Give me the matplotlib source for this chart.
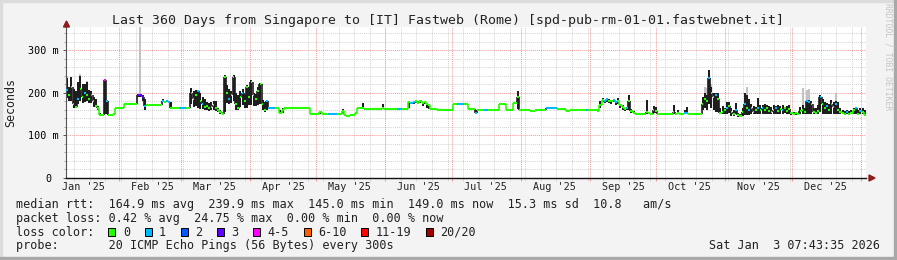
import datetime as dt
import matplotlib
matplotlib.use("Agg")
import matplotlib.pyplot as plt
import matplotlib.dates as mdates
import numpy as np
from matplotlib.patches import Rectangle, Polygon

# time range of the graph
start = dt.datetime(2025, 1, 8, 7, 43, 35)
end = dt.datetime(2026, 1, 3, 7, 43, 35)
n_days = 360

# daily median rtt (ms)
median_ms = [
    207, 195, 215, 175, 168, 185, 210, 190, 200, 195, 185, 195, 180, 170, 165, 149, 149, 230, 180, 149,
    149, 150, 165, 165, 165, 165, 174, 174, 174, 174, 174, 174, 195, 195, 190, 170, 172, 172, 172, 172,
    172, 172, 172, 181, 178, 181, 178, 165, 164, 164, 164, 164, 164, 164, 164, 164, 200, 185, 195, 205,
    180, 175, 168, 170, 165, 168, 172, 165, 160, 155, 150, 238, 200, 185, 195, 237, 175, 165, 190, 200,
    180, 215, 190, 225, 195, 185, 205, 220, 175, 160, 180, 165, 165, 165, 165, 165, 152, 160, 164, 164,
    164, 164, 164, 164, 164, 164, 164, 164, 164, 164, 151, 151, 151, 151, 156, 151, 151, 151, 151, 151,
    151, 151, 151, 151, 158, 147, 146, 145, 147, 149, 152, 164, 164, 165, 163, 163, 163, 163, 163, 163,
    163, 163, 164, 162, 162, 162, 162, 162, 162, 162, 162, 162, 162, 162, 178, 176, 178, 181, 177, 180,
    176, 179, 175, 172, 162, 162, 162, 160, 160, 160, 160, 160, 160, 160, 174, 174, 174, 174, 174, 174,
    174, 162, 162, 162, 153, 160, 160, 160, 160, 160, 160, 160, 160, 160, 160, 174, 174, 174, 160, 160,
    160, 176, 176, 190, 161, 161, 161, 161, 161, 157, 157, 160, 160, 160, 160, 160, 164, 164, 164, 164,
    164, 162, 162, 162, 162, 158, 158, 161, 161, 161, 161, 161, 161, 161, 161, 161, 161, 161, 161, 157,
    172, 183, 180, 186, 182, 180, 183, 179, 181, 172, 168, 163, 165, 180, 158, 153, 150, 150, 150, 150,
    150, 155, 152, 150, 160, 158, 150, 150, 150, 150, 150, 150, 150, 155, 150, 152, 150, 150, 152, 152,
    150, 150, 150, 150, 150, 150, 175, 185, 180, 235, 200, 190, 195, 185, 153, 155, 160, 165, 170, 155,
    150, 160, 148, 146, 155, 175, 165, 160, 165, 155, 160, 165, 160, 165, 160, 165, 158, 155, 160, 165,
    158, 162, 160, 165, 158, 162, 152, 150, 152, 150, 158, 160, 155, 180, 178, 175, 155, 152, 158, 190,
    175, 165, 170, 160, 175, 168, 175, 160, 155, 152, 150, 155, 150, 152, 160, 165, 150, 158, 155, 149,
]

# daily smoke range (ms)
smoke_lo_ms = [
    188, 180, 182, 165, 165, 175, 180, 176, 178, 180, 176, 176, 168, 167, 160, 148, 149, 150, 150, 149,
    149, 150, 165, 165, 165, 165, 174, 174, 174, 174, 174, 174, 190, 190, 180, 160, 172, 172, 172, 172,
    172, 172, 172, 178, 178, 178, 178, 163, 164, 164, 164, 164, 164, 164, 164, 164, 175, 168, 170, 165,
    163, 162, 160, 160, 158, 160, 160, 158, 155, 150, 148, 155, 176, 175, 176, 180, 160, 160, 168, 172,
    165, 165, 172, 172, 170, 170, 172, 175, 160, 155, 160, 165, 165, 165, 165, 165, 150, 152, 164, 164,
    164, 164, 164, 164, 164, 164, 164, 164, 164, 164, 151, 151, 151, 151, 151, 151, 151, 151, 151, 151,
    151, 151, 151, 151, 150, 146, 146, 145, 147, 149, 152, 164, 164, 163, 163, 163, 163, 163, 163, 163,
    163, 163, 162, 162, 162, 162, 162, 162, 162, 162, 162, 162, 162, 162, 165, 174, 175, 176, 175, 176,
    170, 175, 165, 162, 162, 162, 162, 160, 160, 160, 160, 160, 160, 160, 174, 174, 174, 174, 174, 174,
    174, 162, 162, 162, 152, 160, 160, 160, 160, 160, 160, 160, 160, 160, 160, 174, 174, 174, 160, 160,
    160, 176, 176, 162, 161, 161, 161, 161, 161, 157, 157, 160, 160, 160, 160, 160, 164, 164, 164, 164,
    164, 162, 162, 162, 162, 158, 158, 161, 161, 161, 161, 161, 161, 161, 161, 161, 161, 161, 161, 157,
    165, 178, 176, 178, 176, 175, 178, 172, 175, 165, 160, 158, 160, 160, 153, 150, 150, 150, 150, 150,
    150, 150, 150, 150, 153, 152, 150, 150, 150, 150, 150, 150, 150, 150, 150, 150, 150, 150, 150, 150,
    150, 150, 150, 150, 150, 150, 160, 165, 160, 175, 165, 160, 155, 155, 150, 150, 150, 150, 152, 145,
    145, 150, 143, 143, 145, 148, 148, 148, 150, 150, 150, 150, 150, 150, 150, 150, 150, 150, 150, 150,
    150, 150, 150, 152, 150, 150, 148, 148, 148, 148, 150, 150, 150, 150, 150, 150, 150, 150, 150, 155,
    150, 150, 150, 150, 150, 150, 150, 150, 150, 150, 148, 150, 148, 150, 150, 150, 148, 150, 150, 148,
]
smoke_hi_ms = [
    235, 215, 237, 210, 205, 225, 240, 222, 220, 225, 207, 205, 190, 185, 170, 152, 150, 233, 183, 149,
    149, 150, 165, 165, 165, 165, 174, 174, 174, 174, 174, 174, 197, 197, 195, 185, 172, 172, 172, 172,
    172, 172, 172, 186, 178, 184, 178, 178, 164, 164, 164, 164, 164, 164, 164, 164, 212, 205, 207, 208,
    200, 190, 185, 178, 176, 178, 180, 182, 165, 160, 155, 242, 219, 210, 205, 242, 200, 195, 205, 210,
    198, 219, 215, 230, 200, 198, 215, 223, 183, 178, 183, 165, 165, 165, 165, 165, 160, 164, 164, 164,
    164, 164, 164, 164, 164, 164, 164, 164, 164, 164, 151, 151, 151, 151, 158, 151, 151, 151, 151, 151,
    151, 151, 151, 151, 162, 149, 146, 145, 147, 149, 152, 164, 164, 176, 163, 163, 163, 163, 163, 163,
    163, 163, 174, 162, 162, 162, 162, 162, 162, 162, 162, 162, 162, 162, 180, 178, 180, 182, 180, 181,
    178, 180, 177, 175, 162, 162, 162, 160, 160, 160, 160, 160, 160, 160, 174, 174, 174, 174, 174, 174,
    174, 162, 162, 162, 160, 160, 160, 160, 160, 160, 160, 160, 160, 160, 160, 174, 174, 174, 160, 160,
    160, 176, 176, 205, 161, 161, 161, 161, 161, 157, 157, 160, 160, 160, 160, 160, 164, 164, 164, 164,
    164, 162, 162, 162, 162, 158, 158, 161, 161, 161, 161, 161, 161, 161, 161, 161, 161, 161, 161, 157,
    180, 187, 184, 188, 185, 183, 185, 182, 188, 175, 172, 165, 168, 195, 162, 158, 150, 150, 150, 150,
    150, 183, 155, 150, 169, 168, 150, 150, 150, 150, 150, 150, 150, 172, 150, 160, 150, 150, 160, 167,
    150, 150, 150, 150, 150, 150, 190, 200, 195, 254, 215, 200, 200, 200, 165, 170, 165, 179, 179, 165,
    160, 176, 152, 150, 165, 200, 195, 185, 175, 170, 168, 187, 172, 172, 175, 172, 170, 168, 172, 170,
    172, 170, 172, 168, 170, 172, 155, 155, 155, 153, 168, 172, 165, 183, 183, 180, 165, 165, 172, 195,
    185, 178, 176, 175, 183, 178, 180, 178, 165, 160, 158, 160, 158, 160, 165, 168, 160, 165, 165, 160,
]
# light grey outer smoke (day -> ms)
peak_ms = {0: 240, 6: 245, 9: 228, 33: 355, 287: 215, 288: 212, 290: 222,
           306: 215, 331: 212, 333: 207, 334: 210, 346: 200}

# loss per day, index into loss_labels
loss_rows = [
    "100001001001000004100000000000",
    "003331000000010110000111001001",
    "010000000000010000010000100000",
    "111100000000000000000000000011",
    "110000000000000000000000000001",
    "100001100000000000000000001110",
    "000010001100000000000000000000",
    "000000111110000000000000100000",
    "001100110000100000000000000000",
    "000000001100000000010010000100",
    "010001010001010000010010000000",
    "000110000100101010000100010100",
]
loss = "".join(loss_rows)

loss_labels = ["0", "1", "2", "3", "4-5", "6-10", "11-19", "20/20"]
loss_colors = ["#26ff00", "#00b8ff", "#0059ff", "#5e00ff", "#ff00ff", "#ff5e00", "#ff0000", "#a10000"]

y_ticks = [0, 100, 200, 300]
y_tick_labels = ["0 ", "100 m", "200 m", "300 m"]

title = "Last 360 Days from Singapore to [IT] Fastweb (Rome) [spd-pub-rm-01-01.fastwebnet.it]"
legend_lines = [
    "median rtt:  164.9 ms avg  239.9 ms max  145.0 ms min  149.0 ms now  15.3 ms sd  10.8   am/s",
    "packet loss: 0.42 % avg  24.75 % max  0.00 % min  0.00 % now",
    "loss color:",
    "probe:       20 ICMP Echo Pings (56 Bytes) every 300s",
]
stamp = "Sat Jan  3 07:43:35 2026"

W, H = 897, 260
MONO = "DejaVu Sans Mono"
BG = "#f3f3f3"
SMOKE = "#1e1e1e"


def fx(px):
    return px / W


def fy(py):
    return 1 - py / H


fig = plt.figure(figsize=(W / 100, H / 100), dpi=100, facecolor=BG)
ax = fig.add_axes([fx(66), fy(178), 800 / W, 151 / H])
ax.set_facecolor("white")

x0 = mdates.date2num(start)
x1 = mdates.date2num(end)
xs = x0 + np.arange(n_days)
ax.set_xlim(x0, x1)
ax.set_ylim(0, 355)

# grid
dot = (0, (1, 1))
for v in range(0, 356, 20):
    if v % 100:
        ax.axhline(v, color="#d2d2d2", lw=0.7, ls=dot, zorder=0)
for v in y_ticks[1:]:
    ax.axhline(v, color="#f29a9a", lw=0.7, ls=dot, zorder=0.5)
weeks = [v for v in mdates.WeekdayLocator(byweekday=mdates.SU).tick_values(start, end)
         if x0 < v < x1]
month_starts = [v for v in mdates.MonthLocator().tick_values(start, end) if x0 < v < x1]
for v in weeks:
    ax.axvline(v, color="#d2d2d2", lw=0.7, ls=dot, zorder=0)
for v in month_starts:
    ax.axvline(v, color="#f29a9a", lw=0.7, ls=dot, zorder=0.5)

med = np.array(median_ms, float)
lo = np.array(smoke_lo_ms, float)
hi = np.array(smoke_hi_ms, float)
calm = (hi - lo) <= 15

# outer smoke
pk_days = sorted(peak_ms)
ax.vlines(xs[pk_days] + 0.45, lo[pk_days], [peak_ms[d] for d in pk_days],
          color="#c2c2c2", lw=1.5, zorder=1)
# dark smoke
ax.bar(xs, hi - lo, bottom=lo, width=0.9, align="edge", color=SMOKE, lw=0, zorder=2)

# median line coloured by loss: full steps where calm, short dots inside heavy smoke
cols = [loss_colors[int(c)] for c in loss]
ax.hlines(med, np.where(calm, xs, xs + 0.1), np.where(calm, xs + 1, xs + 0.8),
          colors=cols, lw=1.5, zorder=3)
for i in range(n_days - 1):
    if med[i] != med[i + 1]:
        c = cols[i + 1] if (calm[i] and calm[i + 1] and loss[i] == loss[i + 1]) else SMOKE
        ax.vlines(xs[i + 1], med[i], med[i + 1], colors=c, lw=1.2, zorder=2.5)

# axes
for s in ["top", "right"]:
    ax.spines[s].set_visible(False)
ax.spines["left"].set_color("#555555")
ax.spines["left"].set_linewidth(0.8)
ax.spines["bottom"].set_color("#111111")
ax.spines["bottom"].set_linewidth(1.0)
ax.set_yticks(y_ticks)
ax.set_yticklabels(y_tick_labels, family=MONO, fontsize=7.3)
ax.set_yticks(range(20, 356, 20), minor=True)
ax.tick_params(axis="y", which="major", length=2.5, width=0.7, pad=3, color="#555555")
ax.tick_params(axis="y", which="minor", length=1.5, width=0.6, color="#999999")
ax.set_xticks(month_starts)
ax.set_xticklabels([])
ax.set_xticks(weeks, minor=True)
ax.tick_params(axis="x", which="major", length=2.5, width=0.7, color="#f29a9a")
ax.tick_params(axis="x", which="minor", length=2.0, width=0.6, color="#d2d2d2")

# month labels centred on the 16th
xtrans = ax.get_xaxis_transform()
label_y = (178 - 190.5) / 151
for v in mdates.DayLocator(bymonthday=16).tick_values(start, end):
    if x0 < v < x1:
        ax.text(v, label_y, mdates.num2date(v).strftime("%b '%y"), transform=xtrans,
                ha="center", va="baseline", family=MONO, fontsize=7.3, color="#222222")

# arrows
arrow_col = "#8e1b1b"
fig.patches.append(Polygon([(fx(66.5), fy(21)), (fx(63.5), fy(27)), (fx(69.5), fy(27))],
                           closed=True, transform=fig.transFigure, color=arrow_col))
fig.patches.append(Polygon([(fx(875), fy(178)), (fx(869), fy(175)), (fx(869), fy(181))],
                           closed=True, transform=fig.transFigure, color=arrow_col))

# texts
fig.text(fx(447.5), fy(24), title, ha="center", va="baseline", family=MONO, fontsize=9.5,
         color="#222222")
fig.text(fx(11), fy(102.5), "Seconds", rotation=90, ha="center", va="center", family=MONO,
         fontsize=8.4, color="#222222")
fig.text(fx(888), fy(3), "RRDTOOL / TOBI OETIKER", rotation=-90, ha="center", va="top",
         family=MONO, fontsize=5.8, color="#c4c4c4")

baselines = [207.7, 221.6, 235.5, 249.4]
for line, b in zip(legend_lines, baselines):
    fig.text(fx(16), fy(b), line, ha="left", va="baseline", family=MONO, fontsize=8.5,
             color="#222222")
fig.text(fx(880), fy(baselines[3]), stamp, ha="right", va="baseline", family=MONO,
         fontsize=8.5, color="#222222")

# loss colour boxes
cw = 7.05
bx = 108.3
for lab, col in zip(loss_labels, loss_colors):
    fig.patches.append(Rectangle((fx(bx), fy(236)), 7 / W, 8 / H, transform=fig.transFigure,
                                 facecolor=col, edgecolor="black", lw=0.7))
    fig.text(fx(bx + 14.5), fy(baselines[2]), lab, ha="left", va="baseline", family=MONO,
             fontsize=8.5, color="#222222")
    bx += cw * (len(lab) + 4) + 1

# frame
fig.patches.append(Rectangle((0, 0), fx(2), 1, transform=fig.transFigure, color="#dcdcdc"))
fig.patches.append(Rectangle((0, fy(2)), 1, 2 / H, transform=fig.transFigure, color="#dcdcdc"))
fig.patches.append(Rectangle((fx(894), 0), 3 / W, 1, transform=fig.transFigure, color="#a8a8a8"))
fig.patches.append(Rectangle((0, 0), 1, 3 / H, transform=fig.transFigure, color="#a8a8a8"))

fig.savefig("out.png", dpi=100, facecolor=BG)
